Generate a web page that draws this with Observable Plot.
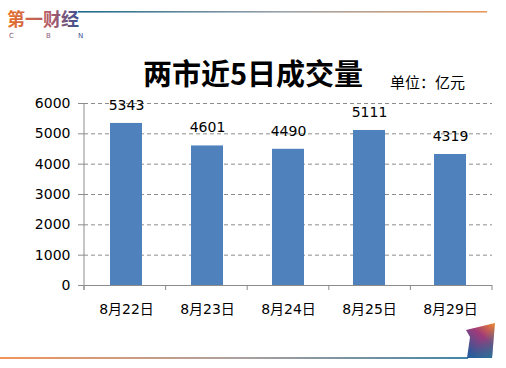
<!DOCTYPE html>
<html><head><meta charset="utf-8">
<script src="https://cdn.jsdelivr.net/npm/d3@7"></script>
<script src="https://cdn.jsdelivr.net/npm/@observablehq/plot@0.6"></script>
<style>
html,body{margin:0;padding:0;background:#fff;}
#wrap{position:relative;width:506px;height:368px;overflow:hidden;}
#chart{position:absolute;left:0;top:0;}
#deco{position:absolute;left:0;top:0;pointer-events:none;}
#title{position:absolute;left:0;width:506px;top:54px;text-align:center;font-family:"Noto Sans CJK SC",sans-serif;font-weight:bold;font-size:29px;line-height:36px;color:#000;}
#unit{position:absolute;left:390px;top:72px;font-family:"Noto Sans CJK SC",sans-serif;font-size:15px;line-height:20px;color:#000;}
</style>
</head><body>
<div id="wrap">
  <div id="chart"></div>
  <div id="title">两市近5日成交量</div>
  <div id="unit">单位：亿元</div>
</div>
<script>
const dates = ["8月22日", "8月23日", "8月24日", "8月25日", "8月29日"];
const volumes = [5343, 4601, 4490, 5111, 4319];
const yTicks = [0, 1000, 2000, 3000, 4000, 5000, 6000];

const data = dates.map((d, i) => ({date: d, value: volumes[i]}));
const font = '"DejaVu Sans","Noto Sans CJK SC",sans-serif';
const axisColor = "#8c8c8c";

function frameLines(index, scales, values, dim) {
  const g = d3.create("svg:g");
  const left = dim.marginLeft, right = dim.width - dim.marginRight;
  const bottom = dim.height - dim.marginBottom, top = dim.marginTop;
  g.append("line").attr("x1", left).attr("x2", left).attr("y1", top).attr("y2", bottom + 5)
    .attr("stroke", axisColor);
  const step = (right - left) / dates.length;
  for (let i = 0; i <= dates.length; i++) {
    const x = left + i * step;
    g.append("line").attr("x1", x).attr("x2", x).attr("y1", bottom).attr("y2", bottom + 5)
      .attr("stroke", axisColor);
  }
  return g.node();
}

const chart = Plot.plot({
  width: 506, height: 368,
  marginLeft: 84, marginRight: 14, marginTop: 103, marginBottom: 83,
  style: {fontFamily: font, fontSize: "14px", color: "#000", background: "transparent"},
  x: {domain: dates, paddingInner: 0.6, paddingOuter: 0.3, axis: null, label: null},
  y: {domain: [0, 6000], axis: null, label: null},
  marks: [
    Plot.gridY(yTicks.slice(1), {stroke: axisColor, strokeOpacity: 1, strokeDasharray: "4,3"}),
    Plot.barY(data, {x: "date", y: "value", fill: "#4F81BD"}),
    Plot.ruleY([0], {stroke: axisColor}),
    Plot.axisY(yTicks, {tickSize: 6, tickPadding: 8, stroke: axisColor, fill: "#000", fontSize: 14,
      tickFormat: d3.format("d"), label: null}),
    Plot.axisX(dates, {tickSize: 0, tickPadding: 19, fill: "#000", fontSize: 14, label: null}),
    Plot.text(data, {x: "date", y: "value", text: d => String(d.value), dy: -18, fontSize: 14, fill: "#000"}),
    frameLines
  ]
});
document.getElementById("chart").appendChild(chart);

// Decorations (brand logo and border lines)
const deco = d3.select("#wrap").append("svg").attr("id", "deco").attr("width", 506).attr("height", 368);
const defs = deco.append("defs");
const g1 = defs.append("linearGradient").attr("id", "topline").attr("x1", "0").attr("x2", "1");
g1.append("stop").attr("offset", "0").attr("stop-color", "#1f6a8c");
g1.append("stop").attr("offset", "0.5").attr("stop-color", "#9aa3ab");
g1.append("stop").attr("offset", "1").attr("stop-color", "#eb9a5c");
const g2 = defs.append("linearGradient").attr("id", "botline").attr("x1", "0").attr("x2", "1");
g2.append("stop").attr("offset", "0").attr("stop-color", "#ee7a33");
g2.append("stop").attr("offset", "0.5").attr("stop-color", "#9a8a86");
g2.append("stop").attr("offset", "1").attr("stop-color", "#16688f");
const g3 = defs.append("linearGradient").attr("id", "logo").attr("x1", "0").attr("x2", "1");
g3.append("stop").attr("offset", "0").attr("stop-color", "#e8702a");
g3.append("stop").attr("offset", "0.6").attr("stop-color", "#b05a6a");
g3.append("stop").attr("offset", "1").attr("stop-color", "#3d4f8f");
const g4 = defs.append("linearGradient").attr("id", "corner").attr("x1", "1").attr("y1", "0").attr("x2", "0.3").attr("y2", "1");
g4.append("stop").attr("offset", "0").attr("stop-color", "#f08a2a");
g4.append("stop").attr("offset", "0.45").attr("stop-color", "#a03a7a");
g4.append("stop").attr("offset", "1").attr("stop-color", "#2a5a9a");
const g5 = defs.append("linearGradient").attr("id", "corner2").attr("x1", "0").attr("y1", "0").attr("x2", "1").attr("y2", "1");
g5.append("stop").attr("offset", "0.5").attr("stop-color", "#1a7a9a").attr("stop-opacity", "0");
g5.append("stop").attr("offset", "1").attr("stop-color", "#1a7a9a").attr("stop-opacity", "0.9");

deco.append("rect").attr("x", 78).attr("y", 11).attr("width", 409).attr("height", 1.6).attr("fill", "url(#topline)");
deco.append("rect").attr("x", 0).attr("y", 357.2).attr("width", 468).attr("height", 1.6).attr("fill", "url(#botline)");
deco.append("path").attr("d", "M466,330 L495,323 L492,358 L467,358 L470,337 Z").attr("fill", "url(#corner)");
deco.append("path").attr("d", "M466,330 L495,323 L492,358 L467,358 L470,337 Z").attr("fill", "url(#corner2)");
deco.append("text").attr("x", 7).attr("y", 26).attr("font-family", '"Noto Sans CJK SC",sans-serif')
  .attr("font-size", 18).attr("font-weight", "bold").attr("fill", "url(#logo)").text("第一财经");
const cbn = deco.append("text").attr("y", 38).attr("font-family", '"DejaVu Sans",sans-serif')
  .attr("font-size", 7).attr("fill", "#8a5a7a");
cbn.append("tspan").attr("x", 9).text("C");
cbn.append("tspan").attr("x", 46).text("B");
cbn.append("tspan").attr("x", 78).attr("fill", "#3d4f8f").text("N");
</script>
</body></html>
